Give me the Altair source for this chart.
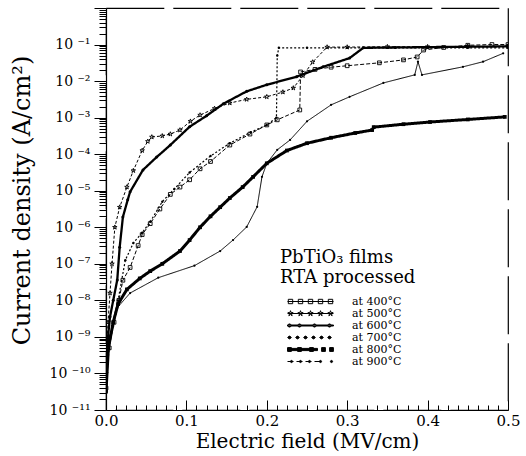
import altair as alt
import pandas as pd

FONT = "DejaVu Serif"

series_names = ["at 400°C", "at 500°C", "at 600°C", "at 700°C", "at 800°C", "at 900°C"]

# Electric field (MV/cm) and log10 of current density (A/cm2)
e400 = [0.0, 0.004, 0.010, 0.016, 0.021, 0.030, 0.040, 0.045, 0.055, 0.067, 0.080, 0.092, 0.104, 0.117, 0.130, 0.154, 0.179, 0.200, 0.213, 0.241, 0.242, 0.260, 0.280, 0.300, 0.340, 0.370, 0.387, 0.395, 0.420, 0.450, 0.480, 0.500]
l400 = [-10.4, -9.3, -8.6, -8.0, -7.45, -7.1, -6.5, -6.2, -5.9, -5.5, -5.1, -4.9, -4.7, -4.4, -4.2, -3.75, -3.45, -3.2, -3.06, -2.79, -1.75, -1.68, -1.62, -1.58, -1.5, -1.42, -1.34, -1.15, -1.08, -1.02, -1.0, -1.0]

e500 = [0.0, 0.0025, 0.005, 0.0075, 0.011, 0.017, 0.026, 0.034, 0.045, 0.052, 0.057, 0.070, 0.080, 0.092, 0.105, 0.117, 0.135, 0.154, 0.175, 0.200, 0.220, 0.233, 0.245, 0.257, 0.275, 0.300, 0.350, 0.400, 0.450, 0.500]
l500 = [-10.0, -8.6, -7.8, -7.0, -6.0, -5.45, -4.9, -4.45, -3.9, -3.65, -3.53, -3.5, -3.45, -3.34, -3.1, -2.93, -2.75, -2.6, -2.5, -2.43, -2.3, -2.19, -1.85, -1.48, -1.07, -1.07, -1.06, -1.06, -1.05, -1.05]

e600 = [0.0, 0.002, 0.005, 0.009, 0.014, 0.017, 0.021, 0.027, 0.030, 0.046, 0.063, 0.080, 0.104, 0.125, 0.146, 0.175, 0.200, 0.237, 0.270, 0.303, 0.320, 0.360, 0.400, 0.450, 0.500]
l600 = [-10.5, -9.1, -8.45, -8.0, -7.44, -6.55, -5.72, -5.25, -5.03, -4.43, -4.08, -3.75, -3.25, -2.95, -2.62, -2.28, -2.1, -1.88, -1.61, -1.37, -1.09, -1.08, -1.07, -1.06, -1.05]

e700 = [0.0, 0.003, 0.0075, 0.015, 0.024, 0.034, 0.045, 0.055, 0.070, 0.085, 0.104, 0.130, 0.154, 0.180, 0.200, 0.212, 0.213, 0.215, 0.250, 0.300, 0.350, 0.400, 0.450, 0.500]
l700 = [-10.3, -9.2, -8.7, -8.0, -6.9, -6.43, -6.15, -5.85, -5.3, -4.95, -4.5, -4.05, -3.7, -3.4, -3.2, -3.0, -1.3, -1.09, -1.09, -1.09, -1.09, -1.09, -1.09, -1.09]

e800 = [0.0, 0.003, 0.009, 0.015, 0.026, 0.042, 0.055, 0.070, 0.092, 0.104, 0.117, 0.130, 0.142, 0.154, 0.170, 0.183, 0.200, 0.225, 0.250, 0.280, 0.310, 0.331, 0.333, 0.370, 0.403, 0.450, 0.496]
l800 = [-10.5, -9.3, -8.6, -8.1, -7.7, -7.4, -7.2, -7.0, -6.65, -6.35, -6.0, -5.7, -5.45, -5.2, -4.9, -4.62, -4.25, -3.9, -3.7, -3.55, -3.42, -3.34, -3.26, -3.18, -3.12, -3.05, -2.98]

e900 = [0.0, 0.004, 0.009, 0.014, 0.030, 0.065, 0.110, 0.142, 0.158, 0.175, 0.188, 0.194, 0.200, 0.213, 0.229, 0.250, 0.280, 0.303, 0.345, 0.384, 0.388, 0.393, 0.444, 0.469, 0.494]
l900 = [-10.3, -9.0, -8.7, -8.2, -7.8, -7.38, -7.05, -6.65, -6.35, -5.99, -5.44, -4.62, -4.25, -3.88, -3.61, -3.1, -2.65, -2.43, -2.05, -1.83, -1.47, -1.83, -1.61, -1.47, -1.24]

y_tick_exponents = [-11, -10, -9, -8, -7, -6, -5, -4, -3, -2, -1]
y_tick_labels = ["10 ⁻¹¹", "10 ⁻¹⁰", "10 ⁻⁹", "10 ⁻⁸", "10 ⁻⁷", "10 ⁻⁶", "10 ⁻⁵", "10 ⁻⁴", "10 ⁻³", "10 ⁻²", "10 ⁻¹"]
x_tick_values = [0.0, 0.1, 0.2, 0.3, 0.4, 0.5]
legend_title = ["PbTiO₃ films", "RTA processed"]

rows = []
for name, xs, ls in zip(series_names, [e400, e500, e600, e700, e800, e900],
                        [l400, l500, l600, l700, l800, l900]):
    for i, (a, b) in enumerate(zip(xs, ls)):
        rows.append({"series": name, "E": a, "J": 10.0 ** b, "order": i})
df = pd.DataFrame(rows)

# ---- marker / legend symbol paths ----
def star(cx, r):
    pts = [(0, -1), (0.22, -0.31), (0.95, -0.31), (0.36, 0.12), (0.59, 0.81),
           (0, 0.38), (-0.59, 0.81), (-0.36, 0.12), (-0.95, -0.31), (-0.22, -0.31)]
    return "M" + "L".join(f"{cx + r * px:.2f},{r * py:.2f}" for px, py in pts) + "Z"

def sq(cx, r):
    return f"M{cx - r},{-r}h{2 * r}v{2 * r}h{-2 * r}Z"

def circ(cx, r):
    return f"M{cx - r},0a{r},{r} 0 1,0 {2 * r},0a{r},{r} 0 1,0 {-2 * r},0Z"

def seg(a, b):
    return f"M{a},0H{b}"

def bar(a, b, h):
    return f"M{a},{-h}H{b}V{h}H{a}Z"

STAR = star(0, 1)
leg_paths = [
    seg(0, 46) + "".join(sq(c, 2.2) for c in [3, 13, 23, 33, 43]),
    seg(0, 46) + "".join(star(c, 2.8) for c in [3, 13, 23, 33, 43]),
    bar(0, 46, 0.5) + "".join(circ(c, 1.6) for c in [2, 12, 27, 42]),
    "".join(seg(a, a + 4) for a in [0, 8, 16, 24, 32, 40]) + "".join(circ(c, 1.4) for c in [2, 10, 18, 26, 34, 42]),
    bar(0, 30, 1.1) + "".join(sq(c, 1.9) for c in [2, 12, 24, 36, 44]),
    "".join(seg(a, a + 6) for a in [0, 9, 18, 27]) + "".join(circ(c, 1.1) for c in [4, 13, 22, 33, 44]),
]
leg_fill = ["transparent", "transparent", "black", "black", "black", "black"]
leg_stroke = ["black"] * 6

line_dash = [[4, 2], [3, 2], [1, 0], [2, 2], [1, 0], [1, 0]]
line_width = [1.0, 1.0, 2.3, 1.2, 3.0, 1.0]
mk_shape = ["square", STAR, "circle", "circle", "square", "circle"]
mk_size = [14, 22, 9, 6, 14, 5]
mk_filled = [False, False, True, True, True, True]

X_SCALE = alt.Scale(domain=[0, 0.5], nice=False, zero=False)
Y_SCALE = alt.Scale(type="log", domain=[1e-11, 1], nice=False)

lbl_expr = "[" + ",".join(f"'{t}'" for t in y_tick_labels) + "][round(log(datum.value)/LN10)+11]"

y_major = alt.Axis(orient="left", values=[10.0 ** k for k in y_tick_exponents] + [1.0],
                   labelExpr=lbl_expr, tickSize=12, tickColor="black", tickWidth=1,
                   domain=True, domainColor="black", domainWidth=1.2,
                   labelFont=FONT, labelFontSize=14, labelColor="black", labelPadding=4,
                   grid=False, title="Current density (A/cm²)", titleFont=FONT,
                   titleFontSize=24, titleFontWeight="normal", titleColor="black",
                   titleAngle=-90, titleX=-84, titleY=192, titleAlign="center",
                   titleBaseline="middle")
y_minor = alt.Axis(orient="left", values=[m * 10.0 ** k for k in y_tick_exponents for m in range(2, 10)],
                   labels=False, tickSize=7, tickColor="black", tickWidth=1,
                   domain=False, grid=False, title=None)

x_main = alt.Axis(orient="bottom", values=x_tick_values, format=".1f", tickSize=0,
                  domain=True, domainColor="black", domainWidth=1.2, labelFlush=False,
                  labelFont=FONT, labelFontSize=15, labelColor="black", labelPadding=3,
                  grid=False, title="Electric field (MV/cm)", titleFont=FONT,
                  titleFontSize=20, titleFontWeight="normal", titleColor="black",
                  titleY=31, titleBaseline="middle")
x_in_major = alt.Axis(orient="top", offset=-402, values=x_tick_values, labels=False,
                      tickSize=10, tickColor="black", domain=False, grid=False, title=None)
x_in_minor = alt.Axis(orient="top", offset=-402,
                      values=[i * 0.0125 for i in range(41) if i % 8 != 0],
                      labels=False, tickSize=5, tickColor="black", domain=False, grid=False, title=None)

x_axes = [x_main, x_in_major, x_in_minor, None, None, None]
y_axes = [y_major, y_minor, None, None, None, None]

layers = []
for i, name in enumerate(series_names):
    sub = alt.Chart(df).transform_filter(alt.datum.series == name)
    layers.append(
        sub.mark_line(color="black", strokeDash=line_dash[i], strokeWidth=line_width[i], clip=True)
        .encode(x=alt.X("E:Q", scale=X_SCALE, axis=x_axes[i]),
                y=alt.Y("J:Q", scale=Y_SCALE, axis=y_axes[i]),
                order="order:Q")
    )
for i, name in enumerate(series_names):
    sub = alt.Chart(df).transform_filter(alt.datum.series == name)
    layers.append(
        sub.mark_point(shape=mk_shape[i], size=mk_size[i], filled=mk_filled[i],
                       color="black", strokeWidth=0.9, opacity=1, clip=True)
        .encode(x=alt.X("E:Q", scale=X_SCALE, axis=None),
                y=alt.Y("J:Q", scale=Y_SCALE, axis=None))
    )

leg = alt.Legend(title=legend_title, orient="none", legendX=174, legendY=241,
                 titleFont=FONT, titleFontSize=18, titleFontWeight="normal", titleColor="black",
                 titleLimit=400, titleLineHeight=20, titlePadding=9, titleAnchor="start",
                 labelFont=FONT, labelFontSize=11, labelColor="black", labelOffset=59,
                 labelLimit=200, symbolSize=4, symbolStrokeColor="black", symbolStrokeWidth=1,
                 symbolOpacity=1, symbolOffset=2, rowPadding=0, padding=0)

legend_layer = (
    alt.Chart(pd.DataFrame({"series": series_names}))
    .transform_filter("false")
    .mark_point(filled=True, strokeWidth=1, size=4, opacity=1)
    .encode(shape=alt.Shape("series:N", scale=alt.Scale(domain=series_names, range=leg_paths), legend=leg),
            fill=alt.Fill("series:N", scale=alt.Scale(domain=series_names, range=leg_fill), legend=leg),
            stroke=alt.Stroke("series:N", scale=alt.Scale(domain=series_names, range=leg_stroke), legend=leg))
)
layers.append(legend_layer)

chart = (
    alt.layer(*layers)
    .resolve_axis(x="independent", y="independent")
    .properties(width=402, height=402,
                padding={"left": 106, "top": 8, "right": 18, "bottom": 46},
                autosize=alt.AutoSizeParams(type="none"), background="white")
    .configure_view(stroke="black", strokeDash=[58, 9], strokeWidth=1.2)
)

chart.save("out.html", embed_options={"renderer": "svg", "actions": False})
